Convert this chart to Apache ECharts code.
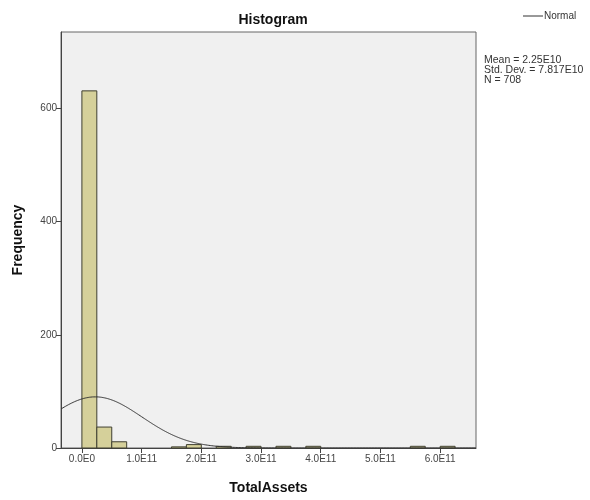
<!DOCTYPE html>
<html><head><meta charset="utf-8">
<script src="https://cdn.jsdelivr.net/npm/echarts@6/dist/echarts.min.js"></script>
<style>html,body{margin:0;padding:0;background:#fff}#c{width:590px;height:500px}</style>
</head><body><div id="c"></div>
<script>
// Data
const binWidth = 2.5e10;
const binStarts = [0, 2.5e10, 5e10, 1.5e11, 1.75e11, 2.25e11, 2.75e11, 3.25e11, 3.75e11, 5.5e11, 6.0e11];
const binCounts = [631, 37, 11, 2, 6, 3, 3, 3, 3, 3, 3];
const xTickValues = [0, 1e11, 2e11, 3e11, 4e11, 5e11, 6e11];
const xTickLabels = ['0.0E0', '1.0E11', '2.0E11', '3.0E11', '4.0E11', '5.0E11', '6.0E11'];
const yTickValues = [0, 200, 400, 600];
const statMean = 2.25e10;
const statSD = 7.817e10;
const statN = 708;
const statLines = ['Mean = 2.25E10', 'Std. Dev. = 7.817E10', 'N = 708'];

// Fitted normal curve from the stated mean, std. dev. and N
const curveXs = [];
for (let x = -3.5e10; x <= 6.6e11; x += 5e9) curveXs.push(x);
const curve = curveXs.map(x => [x, statN * binWidth / (statSD * Math.sqrt(2 * Math.PI)) * Math.exp(-0.5 * Math.pow((x - statMean) / statSD, 2))]);

const histData = binStarts.map((s, i) => [s, s + binWidth, binCounts[i]]);

const chart = echarts.init(document.getElementById('c'), null, {renderer: 'canvas'});
const labelFont = {fontFamily: 'Liberation Sans, Arial', fontSize: 10, color: '#444'};
chart.setOption({
  animation: false,
  grid: {left: 61, top: 32, right: 114, bottom: 51, show: true, backgroundColor: '#f0f0f0', borderColor: '#666', borderWidth: 1},
  title: [
    {text: 'Histogram', left: 268, top: 8, textAlign: 'center', textStyle: {fontFamily: 'Liberation Sans, Arial', fontSize: 14, fontWeight: 'bold', color: '#111'}},
  ],
  graphic: [
    {type: 'line', shape: {x1: 523, y1: 16, x2: 543, y2: 16}, style: {stroke: '#333', lineWidth: 1}},
    {type: 'text', x: 544, y: 16, style: {text: 'Normal', font: '10px Liberation Sans, Arial', fill: '#333', textVerticalAlign: 'middle'}},
    {type: 'text', x: 484, y: 60, style: {text: statLines[0], font: '10.5px Liberation Sans, Arial', fill: '#333', textVerticalAlign: 'middle'}},
    {type: 'text', x: 484, y: 70, style: {text: statLines[1], font: '10.5px Liberation Sans, Arial', fill: '#333', textVerticalAlign: 'middle'}},
    {type: 'text', x: 484, y: 80, style: {text: statLines[2], font: '10.5px Liberation Sans, Arial', fill: '#333', textVerticalAlign: 'middle'}}
  ],
  xAxis: {
    type: 'value', min: -3.5e10, max: 6.6e11,
    name: 'TotalAssets', nameLocation: 'middle', nameGap: 33,
    nameTextStyle: {fontFamily: 'Liberation Sans, Arial', fontSize: 14, fontWeight: 'bold', color: '#111'},
    axisLine: {onZero: false, lineStyle: {color: '#444', width: 1}},
    axisTick: {show: true, length: 5, lineStyle: {color: '#444'}, customValues: xTickValues},
    axisLabel: {...labelFont, margin: 6, customValues: xTickValues, formatter: v => { const i = xTickValues.indexOf(v); return i >= 0 ? xTickLabels[i] : ''; }},
    splitLine: {show: false}
  },
  yAxis: {
    type: 'value', min: 0, max: 735,
    name: 'Frequency', nameLocation: 'middle', nameGap: 36,
    nameTextStyle: {fontFamily: 'Liberation Sans, Arial', fontSize: 14, fontWeight: 'bold', color: '#111'},
    axisLine: {show: true, onZero: false, lineStyle: {color: '#444', width: 1}},
    axisTick: {show: true, length: 5, lineStyle: {color: '#444'}, customValues: yTickValues},
    axisLabel: {...labelFont, margin: 4, customValues: yTickValues},
    splitLine: {show: false}
  },
  series: [
    {
      type: 'custom',
      data: histData,
      renderItem: (params, api) => {
        const p0 = api.coord([api.value(0), 0]);
        const p1 = api.coord([api.value(1), api.value(2)]);
        return {type: 'rect', shape: {x: p0[0], y: p1[1], width: p1[0] - p0[0], height: p0[1] - p1[1]},
          style: {fill: '#d5d09a', stroke: '#3f3f30', lineWidth: 1}};
      },
      encode: {x: [0, 1], y: 2},
      z: 2
    },
    {
      type: 'line', data: curve, showSymbol: false, smooth: true,
      lineStyle: {color: '#333', width: 1}, z: 3
    }
  ]
});
</script></body></html>
